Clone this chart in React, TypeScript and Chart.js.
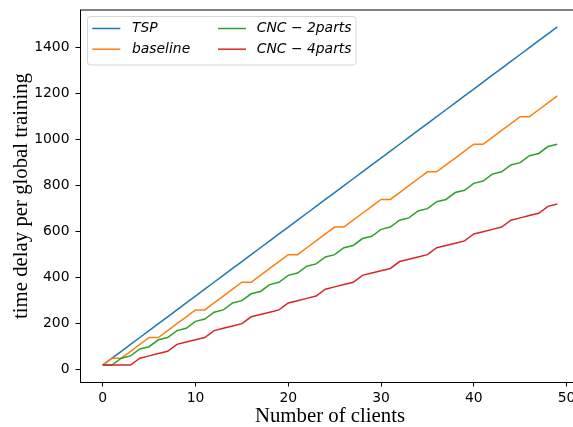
import React, { useEffect, useRef } from "react";
import { Chart, registerables } from "chart.js";

Chart.register(...registerables);

const clients = [
  0, 1, 2, 3, 4, 5, 6, 7, 8, 9, 10, 11, 12, 13, 14, 15, 16, 17, 18, 19, 20, 21, 22, 23, 24,
  25, 26, 27, 28, 29, 30, 31, 32, 33, 34, 35, 36, 37, 38, 39, 40, 41, 42, 43, 44, 45, 46, 47, 48, 49,
];

const tspDelay = [
  20, 50, 80, 110, 140, 170, 200, 230, 260, 290, 320, 350, 380, 410, 440, 470, 500, 530, 560, 590,
  620, 650, 680, 710, 740, 770, 800, 830, 860, 890, 920, 950, 980, 1010, 1040, 1070, 1100, 1130,
  1160, 1190, 1220, 1250, 1280, 1310, 1340, 1370, 1400, 1430, 1460, 1490,
];

const baselineDelay = [
  20, 50, 50, 80, 110, 140, 140, 170, 200, 230, 260, 260, 290, 320, 350, 380, 380, 410, 440, 470,
  500, 500, 530, 560, 590, 620, 620, 650, 680, 710, 740, 740, 770, 800, 830, 860, 860, 890, 920,
  950, 980, 980, 1010, 1040, 1070, 1100, 1100, 1130, 1160, 1190,
];

const cnc2Delay = [
  20, 20, 50, 60, 90, 100, 130, 140, 170, 180, 210, 220, 250, 260, 290, 300, 330, 340, 370, 380,
  410, 420, 450, 460, 490, 500, 530, 540, 570, 580, 610, 620, 650, 660, 690, 700, 730, 740, 770,
  780, 810, 820, 850, 860, 890, 900, 930, 940, 970, 980,
];

const cnc4Delay = [
  20, 20, 20, 20, 50, 60, 70, 80, 110, 120, 130, 140, 170, 180, 190, 200, 230, 240, 250, 260,
  290, 300, 310, 320, 350, 360, 370, 380, 410, 420, 430, 440, 470, 480, 490, 500, 530, 540, 550,
  560, 590, 600, 610, 620, 650, 660, 670, 680, 710, 720,
];

const seriesLabels = ["TSP", "baseline", "CNC \u2212 2parts", "CNC \u2212 4parts"];
const seriesColors = ["#1f77b4", "#ff7f0e", "#2ca02c", "#d62728"];
const seriesValues = [tspDelay, baselineDelay, cnc2Delay, cnc4Delay];

const xTicks = [0, 10, 20, 30, 40, 50];
const yTicks = [0, 200, 400, 600, 800, 1000, 1200, 1400];

const xLabel = "Number of clients";
const yLabel = "time delay per global training";

const CANVAS_W = 620;
const CANVAS_H = 427;

const legendPlugin = {
  id: "mplLegend",
  afterDatasetsDraw(chart: any) {
    const ctx: CanvasRenderingContext2D = chart.ctx;
    const a = chart.chartArea;
    ctx.save();
    // top spine
    ctx.strokeStyle = "#000";
    ctx.lineWidth = 1;
    ctx.beginPath();
    ctx.moveTo(a.left, a.top);
    ctx.lineTo(a.right, a.top);
    ctx.stroke();

    // legend box
    const bx = a.left + 7.5;
    const by = a.top + 6.5;
    const bw = 268.5;
    const bh = 48.5;
    ctx.beginPath();
    (ctx as any).roundRect(bx, by, bw, bh, 3);
    ctx.fillStyle = "rgba(255,255,255,0.8)";
    ctx.fill();
    ctx.strokeStyle = "#d6d6d6";
    ctx.lineWidth = 1;
    ctx.stroke();

    const cols = [
      { hx: a.left + 12.3, tx: a.left + 52 },
      { hx: a.left + 138, tx: a.left + 176.7 },
    ];
    const rows = [a.top + 18.5, a.top + 39.2];
    ctx.font = "italic 13.9px 'DejaVu Sans'";
    ctx.textBaseline = "middle";
    ctx.textAlign = "left";
    seriesLabels.forEach((label, i) => {
      const c = cols[Math.floor(i / 2)];
      const y = rows[i % 2];
      ctx.strokeStyle = seriesColors[i];
      ctx.lineWidth = 1.5;
      ctx.beginPath();
      ctx.moveTo(c.hx, y);
      ctx.lineTo(c.hx + 28, y);
      ctx.stroke();
      ctx.fillStyle = "#000";
      ctx.fillText(label, c.tx, y);
    });
    ctx.restore();
  },
};

export default function App() {
  const canvasRef = useRef<HTMLCanvasElement | null>(null);

  useEffect(() => {
    if (!canvasRef.current) return;
    const tickFont = { family: "'DejaVu Sans'", size: 13.9 };
    const titleFont = { family: "'Liberation Serif'", size: 20.8, lineHeight: 1 };
    const chart = new Chart(canvasRef.current, {
      type: "line",
      data: {
        datasets: seriesValues.map((vals, i) => ({
          label: seriesLabels[i],
          data: clients.map((c, j) => ({ x: c, y: vals[j] })),
          borderColor: seriesColors[i],
          backgroundColor: seriesColors[i],
          borderWidth: 1.5,
          pointRadius: 0,
          tension: 0,
          fill: false,
          order: seriesValues.length - i,
        })),
      },
      options: {
        responsive: false,
        animation: false,
        devicePixelRatio: 1,
        layout: { padding: { top: 10, right: CANVAS_W - 580, left: 0, bottom: 0 } },
        plugins: {
          legend: { display: false },
          tooltip: { enabled: false },
        },
        scales: {
          x: {
            type: "linear",
            min: -2.45,
            max: 51.45,
            afterFit: (s: any) => {
              s.height = CANVAS_H - 382;
              s.paddingLeft = 0;
              s.paddingRight = 0;
              s.paddingTop = 0;
              s.paddingBottom = 0;
            },
            afterBuildTicks: (s: any) => {
              s.ticks = xTicks.map((v) => ({ value: v }));
            },
            grid: {
              drawOnChartArea: false,
              drawTicks: true,
              tickLength: 4.5,
              tickColor: "#000",
              tickWidth: 1,
            },
            border: { display: true, color: "#000", width: 1 },
            ticks: {
              font: tickFont,
              color: "#000",
              padding: 4,
              maxRotation: 0,
              autoSkip: false,
              callback: (v: any) => String(v),
            },
            title: {
              display: true,
              text: xLabel,
              font: titleFont,
              color: "#000",
              padding: { top: 0, bottom: 0 },
            },
          },
          y: {
            type: "linear",
            min: -53.5,
            max: 1563.5,
            afterFit: (s: any) => {
              s.width = 80;
              s.paddingLeft = 0;
              s.paddingRight = 0;
              s.paddingTop = 0;
              s.paddingBottom = 0;
            },
            afterBuildTicks: (s: any) => {
              s.ticks = yTicks.map((v) => ({ value: v }));
            },
            grid: {
              drawOnChartArea: false,
              drawTicks: true,
              tickLength: 4.5,
              tickColor: "#000",
              tickWidth: 1,
            },
            border: { display: true, color: "#000", width: 1 },
            ticks: {
              font: tickFont,
              color: "#000",
              padding: 6,
              autoSkip: false,
              callback: (v: any) => String(v),
            },
            title: {
              display: true,
              text: yLabel,
              font: titleFont,
              color: "#000",
              padding: { top: 11, bottom: 0 },
            },
          },
        },
      },
      plugins: [legendPlugin],
    });
    return () => chart.destroy();
  }, []);

  return (
    <div
      style={{
        position: "absolute",
        left: 0,
        top: 0,
        width: 573,
        height: 427,
        overflow: "hidden",
        background: "#fff",
      }}
    >
      <canvas ref={canvasRef} width={CANVAS_W} height={CANVAS_H} style={{ display: "block" }} />
    </div>
  );
}
